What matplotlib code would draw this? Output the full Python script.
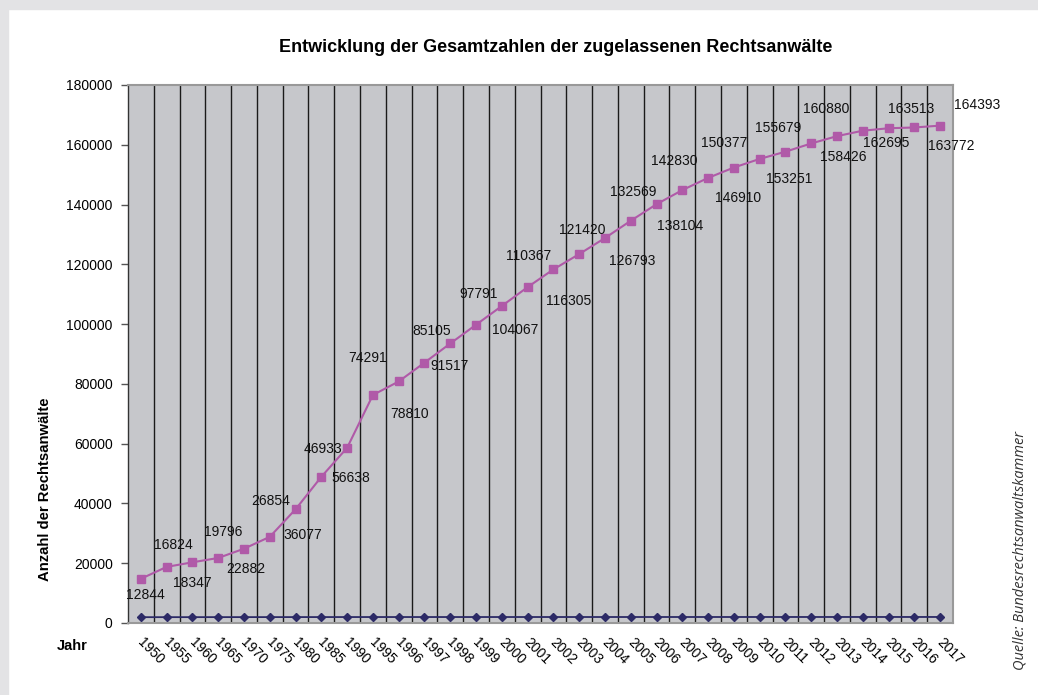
import matplotlib
matplotlib.use("Agg")
import matplotlib.pyplot as plt
from matplotlib.patches import Rectangle
from matplotlib.transforms import ScaledTranslation
import numpy as np

plt.rcParams['font.family'] = ['Liberation Sans', 'DejaVu Sans']

# data (the year row was plotted as its own series, counts stacked on top)
years = [1950, 1955, 1960, 1965, 1970, 1975, 1980, 1985, 1990, 1995,
         1996, 1997, 1998, 1999, 2000, 2001, 2002, 2003, 2004, 2005,
         2006, 2007, 2008, 2009, 2010, 2011, 2012, 2013, 2014, 2015,
         2016, 2017]
anwaelte = [12844, 16824, 18347, 19796, 22882, 26854, 36077, 46933, 56638, 74291,
            78810, 85105, 91517, 97791, 104067, 110367, 116305, 121420, 126793, 132569,
            138104, 142830, 146910, 150377, 153251, 155679, 158426, 160880, 162695, 163513,
            163772, 164393]
year_labels = [str(y) for y in years]
y_ticks = [0, 20000, 40000, 60000, 80000, 100000, 120000, 140000, 160000, 180000]

# label offsets in pixels (dx right, dy down) as placed in the original chart
label_offsets = [(4, 16), (7, -22), (0, 21), (5, -26), (2, 20), (1, -36), (7, 26), (2, -28),
                 (4, 30), (-5, -37), (11, 33), (7, -32), (-1, 23), (3, -31), (13, 24), (1, -31),
                 (15, 32), (3, -24), (27, 23), (2, -29), (24, 22), (-8, -29), (30, 20), (-10, -25),
                 (30, 20), (-7, -24), (32, 14), (-11, -27), (23, 12), (23, -19), (37, 19), (37, -21)]

x = np.arange(len(years))
bottom = np.array(years)
top = bottom + np.array(anwaelte)

fig = plt.figure(figsize=(10.38, 6.95), dpi=100)
fig.patches.append(Rectangle((0, 1 - 9 / 695), 1, 9 / 695, transform=fig.transFigure,
                             color='#e3e3e5', zorder=0))
fig.patches.append(Rectangle((0, 0), 8 / 1038, 1, transform=fig.transFigure,
                             color='#e3e3e5', zorder=0))

ax = fig.add_axes([128 / 1038, 1 - 623 / 695, 825 / 1038, 538 / 695])
ax.set_facecolor('#c6c7cb')

ax.plot(x, bottom, color='#2c2a66', lw=1.3, marker='D', ms=4.5, zorder=3)
ax.plot(x, top, color='#b05aa8', lw=1.5, marker='s', ms=6.2, zorder=3)

for i in range(len(x)):
    dx, dy = label_offsets[i]
    ax.annotate(str(anwaelte[i]), (x[i], top[i]), xytext=(dx * 0.72, -dy * 0.72),
                textcoords='offset points', ha='center', va='center', fontsize=10,
                color='#111111', zorder=4)

ax.set_xlim(-0.5, len(x) - 0.5)
ax.set_ylim(0, 180000)
ax.set_yticks(y_ticks)
ax.set_yticklabels([str(v) for v in y_ticks], fontsize=10)
ax.set_xticks(x)
ax.set_xticklabels(year_labels, rotation=-45, ha='left', va='top', fontsize=10)
ax.tick_params(axis='x', length=0, pad=9)
ax.tick_params(axis='y', length=5, width=1, color='#555555', pad=6, direction='out')
shift = ScaledTranslation(-6 / 100, 0, fig.dpi_scale_trans)
for lab in ax.get_xticklabels():
    lab.set_transform(lab.get_transform() + shift)

ax.set_xticks(x[:-1] + 0.5, minor=True)
ax.tick_params(axis='x', which='minor', length=0)
ax.grid(True, axis='x', which='minor', color='#1a1a1a', lw=1)
ax.set_axisbelow(True)

for side in ['top', 'right', 'bottom']:
    ax.spines[side].set_color('#999999')
    ax.spines[side].set_linewidth(1.5)
ax.spines['left'].set_color('#333333')
ax.spines['left'].set_linewidth(1)

fig.text(556 / 1038, 1 - 48 / 695, 'Entwicklung der Gesamtzahlen der zugelassenen Rechtsanwälte',
         ha='center', va='center', fontsize=13, fontweight='bold')
fig.text(45 / 1038, 1 - 489 / 695, 'Anzahl der Rechtsanwälte', rotation=90,
         ha='center', va='center', fontsize=10.7, fontweight='bold')
fig.text(72 / 1038, 1 - 646 / 695, 'Jahr', ha='center', va='center', fontsize=10.5,
         fontweight='bold')
fig.text(1020 / 1038, 1 - 550 / 695, 'Quelle: Bundesrechtsanwaltskammer', rotation=90,
         ha='center', va='center', fontsize=10.5, style='italic', color='#333333',
         family=['Open Sans', 'DejaVu Sans'])

fig.savefig('out.png', dpi=100)
